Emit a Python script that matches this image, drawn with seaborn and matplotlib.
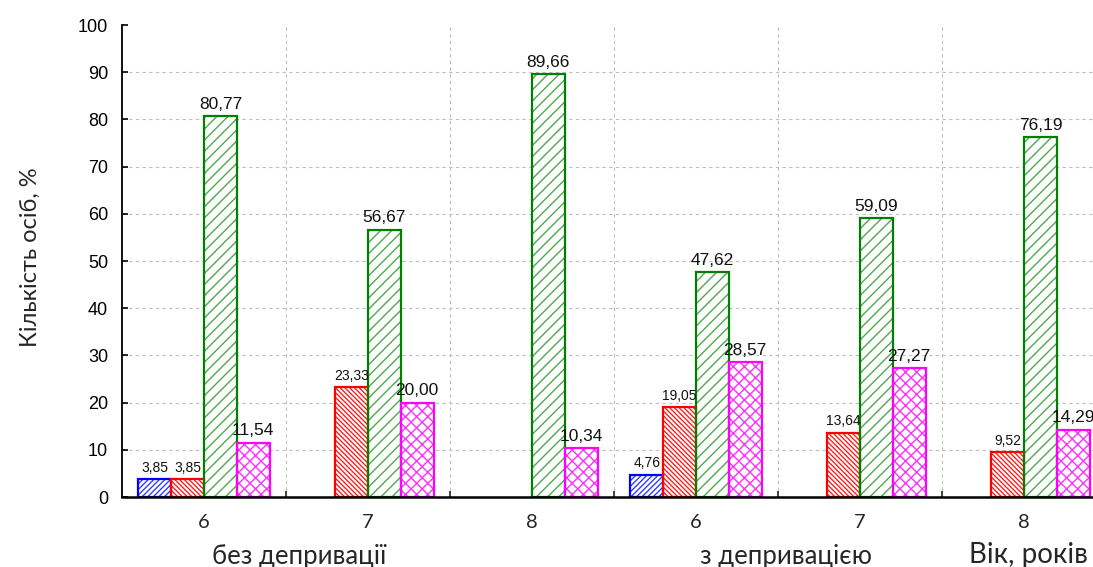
import numpy as np
import pandas as pd
import matplotlib
matplotlib.use("Agg")
import matplotlib.pyplot as plt
import matplotlib.transforms as mtransforms
from matplotlib.ticker import FixedLocator
import seaborn as sns

# ---- data -------------------------------------------------------------
ages = ["6", "7", "8", "6", "7", "8"]
groups = ["без депривації", "з депривацією"]
levels = ["A", "B", "C", "D"]
level_a = [3.85, 0, 0, 4.76, 0, 0]
level_b = [3.85, 23.33, 0, 19.05, 13.64, 9.52]
level_c = [80.77, 56.67, 89.66, 47.62, 59.09, 76.19]
level_d = [11.54, 20.00, 10.34, 28.57, 27.27, 14.29]

# ---- styling ----------------------------------------------------------
colors = {"A": "#0000FF", "B": "#FF0000", "C": "#008000", "D": "#FF00FF"}
hatches = {"A": "//////", "B": "\\\\\\\\\\\\\\", "C": "///", "D": "xxx"}
hatch_colors = {"A": "#3040FF", "B": "#FF2020", "C": "#4EA84E", "D": "#FF30FF"}
label_sizes = {"A": 10, "B": 10, "C": 12.5, "D": 12.5}
SIDE_FONT = ["Lato", "DejaVu Sans"]

sns.set_theme(style="white")
plt.rcParams["font.family"] = ["Liberation Sans", "DejaVu Sans"]
plt.rcParams["hatch.linewidth"] = 1.0

slots = [f"s{i}" for i in range(len(ages))]
rows = []
for series, vals in zip(levels, [level_a, level_b, level_c, level_d]):
    for slot, v in zip(slots, vals):
        if v > 0:
            rows.append({"slot": slot, "level": series, "value": v})
df = pd.DataFrame(rows)

fig = plt.figure(figsize=(10.93, 5.67), dpi=100)
ax = fig.add_axes([122 / 1093, 70 / 567, 984 / 1093, 472 / 567])

common = dict(data=df, x="slot", y="value", hue="level", order=slots,
              hue_order=levels, dodge=True, width=0.8, ax=ax, legend=False,
              errorbar=None, saturation=1, palette=["white"] * 4)

# hatch layer (hatch takes the colour of the patch edge)
sns.barplot(**common)
n_hatch = len(ax.containers)
for cont, series in zip(ax.containers, levels):
    for bar in cont:
        bar.set_facecolor("white")
        bar.set_edgecolor(hatch_colors[series])
        bar.set_hatch(hatches[series])
        bar.set_linewidth(0)

# outline layer with value labels
sns.barplot(**common)
for cont, series in zip(ax.containers[n_hatch:], levels):
    for bar in cont:
        bar.set_facecolor("none")
        bar.set_edgecolor(colors[series])
        bar.set_linewidth(1.6)
    ax.bar_label(cont, labels=[f"{b.get_height():.2f}".replace(".", ",")
                               for b in cont],
                 padding=3, fontsize=label_sizes[series], color="#111111")

ax.set_xlim(-0.5, 5.5)
ax.set_ylim(0, 100)
ax.set_yticks(np.arange(0, 101, 10))
ax.set_xticks(range(len(ages)))
ax.set_xticklabels(ages, family=SIDE_FONT)
ax.xaxis.set_minor_locator(FixedLocator(np.arange(0.5, 5.0, 1.0)))

ax.tick_params(axis="y", direction="in", length=4, width=1.2, pad=10,
               labelsize=13, colors="black", left=True)
ax.tick_params(axis="x", which="major", length=0, pad=12, labelsize=14.5)
ax.tick_params(axis="x", which="minor", direction="in", length=4, width=1.2,
               bottom=True)

ax.set_xlabel("")
ax.set_ylabel("")
fig.text(30 / 1093, 1 - 257 / 567, "Кількість осіб, %", rotation=90,
         ha="center", va="center", fontsize=17, family=SIDE_FONT)

ax.grid(False)
ax.yaxis.grid(True, linestyle=(0, (3, 3)), color="#BEBEBE", linewidth=0.8)
ax.xaxis.grid(True, which="minor", linestyle=(0, (3, 3)), color="#BEBEBE",
              linewidth=0.8)
glines = ax.yaxis.get_gridlines()
glines[0].set_visible(False)
glines[-1].set_visible(False)
ax.set_axisbelow(True)

for side in ["top", "right"]:
    ax.spines[side].set_visible(False)
ax.spines["left"].set_color("black")
ax.spines["left"].set_linewidth(1.3)
ax.spines["bottom"].set_color("black")
ax.spines["bottom"].set_linewidth(1.8)

trans = mtransforms.blended_transform_factory(ax.transData, fig.transFigure)
ax.text(0.58, 3 / 567, groups[0], transform=trans, ha="center",
        va="baseline", fontsize=18.5, family=SIDE_FONT)
ax.text(3.55, 3 / 567, groups[1], transform=trans, ha="center",
        va="baseline", fontsize=18.5, family=SIDE_FONT)
fig.text(1088 / 1093, 4 / 567, "Вік, років", ha="right", va="baseline",
         fontsize=20, family=SIDE_FONT,
         bbox=dict(facecolor="white", edgecolor="none", pad=4))

fig.savefig("out.png", dpi=100)
